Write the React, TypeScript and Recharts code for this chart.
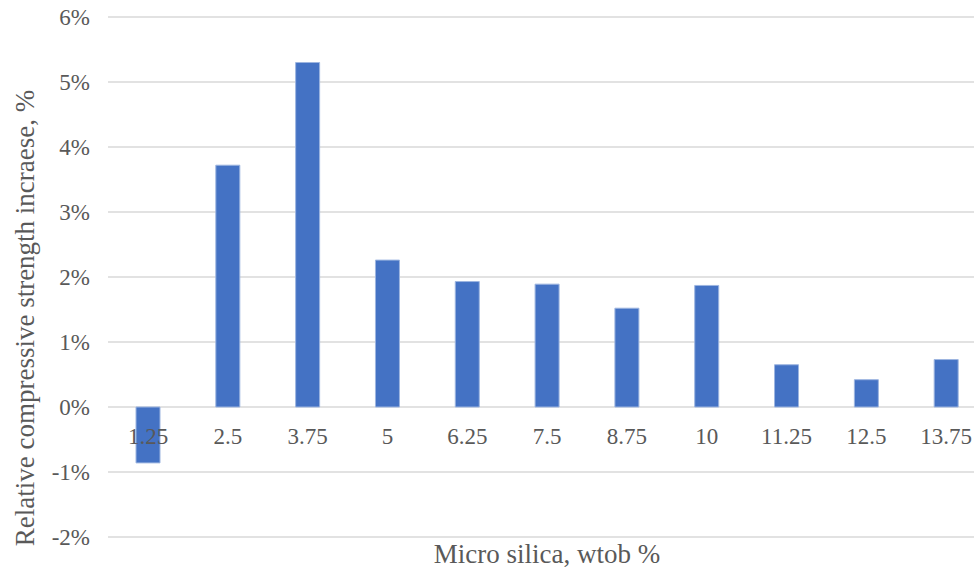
import { BarChart, Bar, XAxis, YAxis, CartesianGrid, LabelList, Label } from 'recharts'

const silica = ['1.25', '2.5', '3.75', '5', '6.25', '7.5', '8.75', '10', '11.25', '12.5', '13.75']
const increase = [-0.86, 3.72, 5.3, 2.26, 1.93, 1.89, 1.52, 1.87, 0.65, 0.42, 0.73]
const yTicks = [-2, -1, 0, 1, 2, 3, 4, 5, 6]

const font = '"Liberation Serif", "Times New Roman", serif'
const grey = '#595959'
const textStyle = { fontFamily: font }

const data = silica.map((s, i) => ({ silica: s, value: increase[i] }))

// category names sit just under the zero line, like Excel does
const CategoryLabel = (props: any) => {
  const vb = props.viewBox ?? props
  const base = vb.y + vb.height
  return (
    <text
      x={vb.x + vb.width / 2}
      y={base + 29}
      textAnchor="middle"
      dominantBaseline="central"
      style={textStyle}
      fontSize={23}
      fill={grey}
    >
      {props.value}
    </text>
  )
}

const App = () => {
  return (
    <div style={{ position: 'absolute', left: 0, top: 0, width: 974, height: 570, overflow: 'hidden', background: '#fff', fontFamily: font }}>
      {/* plot runs a little past the right edge, as in the cropped original */}
      <BarChart width={986} height={570} data={data} margin={{ top: 17, right: 0, left: 0, bottom: 0 }}>
        <CartesianGrid vertical={false} stroke="#D9D9D9" strokeWidth={1.5} />
        <XAxis dataKey="silica" tick={false} tickLine={false} axisLine={false} height={33}>
          <Label
            content={({ viewBox }: any) => (
              <text
                x={viewBox.x + viewBox.width / 2}
                y={viewBox.y + viewBox.height / 2}
                textAnchor="middle"
                dominantBaseline="central"
                style={textStyle}
                fontSize={27}
                fill={grey}
              >
                Micro silica, wtob %
              </text>
            )}
          />
        </XAxis>
        <YAxis
          width={108}
          domain={[-2, 6]}
          ticks={yTicks}
          interval={0}
          tickFormatter={(v) => `${v}%`}
          tickLine={false}
          axisLine={false}
          tickMargin={12}
          tick={{ style: textStyle, fontSize: 23, fill: grey }}
        >
          <Label
            content={({ viewBox }: any) => {
              const cx = viewBox.x + 25
              const cy = viewBox.y + viewBox.height / 2 + 41
              return (
                <text
                  x={cx}
                  y={cy}
                  transform={`rotate(-90, ${cx}, ${cy})`}
                  textAnchor="middle"
                  dominantBaseline="central"
                  style={textStyle}
                  fontSize={27}
                  fill={grey}
                >
                  Relative compressive strength incraese, %
                </text>
              )
            }}
          />
        </YAxis>
        <Bar dataKey="value" fill="#4472C4" stroke="#9DB5E0" strokeWidth={1} barSize={24} isAnimationActive={false}>
          <LabelList dataKey="silica" content={CategoryLabel} />
        </Bar>
      </BarChart>
    </div>
  )
}

export default App
